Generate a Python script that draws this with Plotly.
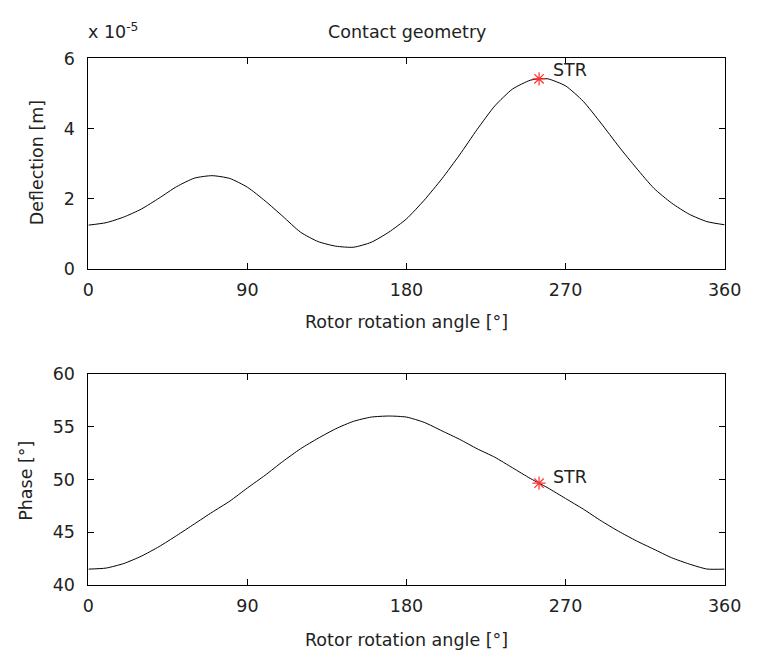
import plotly.graph_objects as go

# ---- data ----
angle = [0, 10, 20, 30, 40, 50, 60, 70, 80, 90, 100, 110, 120, 130, 140, 150, 160, 170,
         180, 190, 200, 210, 220, 230, 240, 250, 255, 260, 270, 280, 290, 300, 310, 320,
         330, 340, 350, 360]
deflection_e5 = [1.25, 1.32, 1.48, 1.71, 2.02, 2.35, 2.59, 2.66, 2.58, 2.33, 1.94, 1.50, 1.05,
                 0.78, 0.65, 0.62, 0.76, 1.05, 1.43, 1.96, 2.57, 3.25, 3.98, 4.65, 5.13, 5.38,
                 5.42, 5.42, 5.22, 4.78, 4.16, 3.50, 2.88, 2.30, 1.88, 1.56, 1.35, 1.26]
phase_deg = [41.52, 41.62, 42.05, 42.75, 43.65, 44.7, 45.8, 46.9, 47.95, 49.2, 50.4, 51.7, 52.9,
             53.9, 54.8, 55.5, 55.9, 56.0, 55.9, 55.4, 54.6, 53.8, 52.9, 52.1, 51.1, 50.1,
             49.65, 49.2, 48.2, 47.2, 46.1, 45.1, 44.2, 43.4, 42.6, 42.0, 41.53, 41.52]
str_angle = 255
str_deflection_e5 = 5.42
str_phase = 49.65

x_ticks = [0, 90, 180, 270, 360]
defl_ticks = [0, 2, 4, 6]
phase_ticks = [40, 45, 50, 55, 60]

FONT = "DejaVu Sans, Liberation Sans, Arial, sans-serif"
TXT = "#222222"
FS = 17.5
RED = "#ff3030"

fig = go.Figure()
fig.add_trace(go.Scatter(x=angle, y=deflection_e5, mode="lines",
                         line=dict(color="black", width=1, shape="spline", smoothing=0.6),
                         xaxis="x", yaxis="y", showlegend=False))
fig.add_trace(go.Scatter(x=[str_angle], y=[str_deflection_e5], mode="markers",
                         marker=dict(symbol="asterisk-open", size=11, color=RED, line=dict(color=RED, width=1.2)),
                         xaxis="x", yaxis="y", showlegend=False))
fig.add_trace(go.Scatter(x=angle, y=phase_deg, mode="lines",
                         line=dict(color="black", width=1, shape="spline", smoothing=0.6),
                         xaxis="x2", yaxis="y2", showlegend=False))
fig.add_trace(go.Scatter(x=[str_angle], y=[str_phase], mode="markers",
                         marker=dict(symbol="asterisk-open", size=11, color=RED, line=dict(color=RED, width=1.2)),
                         xaxis="x2", yaxis="y2", showlegend=False))

axis_common = dict(showline=True, linecolor="black", linewidth=1, mirror="ticks",
                   ticks="inside", ticklen=6, tickcolor="black", tickwidth=1,
                   showgrid=False, zeroline=False, ticklabeloverflow="allow",
                   tickfont=dict(family=FONT, size=FS, color=TXT))
x_common = dict(axis_common, ticklabelstandoff=5)
y_common = dict(axis_common, ticklabelstandoff=9)

W, H = 761, 666

def px(xp):
    return xp / W

def py(yp):
    return 1 - yp / H

x_dom = [px(85), px(741)]
fig.update_layout(
    width=W, height=H,
    margin=dict(l=0, r=0, t=0, b=0),
    paper_bgcolor="white", plot_bgcolor="white",
    xaxis=dict(domain=x_dom, range=[0, 360], tickvals=x_ticks, anchor="y", **x_common),
    yaxis=dict(domain=[py(267), py(50)], range=[0, 6], tickvals=defl_ticks, anchor="x", **y_common),
    xaxis2=dict(domain=x_dom, range=[0, 360], tickvals=x_ticks, anchor="y2", **x_common),
    yaxis2=dict(domain=[py(593), py(375)], range=[40, 60], tickvals=phase_ticks, anchor="x2", **y_common),
)

def ann(text, x, y, xanchor="center", yanchor="middle", angle=0, xref="paper", yref="paper"):
    fig.add_annotation(text=text, x=x, y=y, xref=xref, yref=yref, xanchor=xanchor, yanchor=yanchor,
                       textangle=angle, showarrow=False, font=dict(family=FONT, size=FS, color=TXT))

ann("Contact geometry", px(413), py(23))
ann("x 10<sup>-5</sup>", px(82), py(22), xanchor="left")
ann("Rotor rotation angle [°]", px(413), py(322))
ann("Rotor rotation angle [°]", px(413), py(649))
ann("Deflection [m]", px(32), py(158), angle=-90)
ann("Phase [°]", px(21), py(485), angle=-90)
ann("STR", 261.5, 5.67, xanchor="left", xref="x", yref="y")
ann("STR", 261.5, 50.28, xanchor="left", xref="x2", yref="y2")

fig.write_html("out.html")
